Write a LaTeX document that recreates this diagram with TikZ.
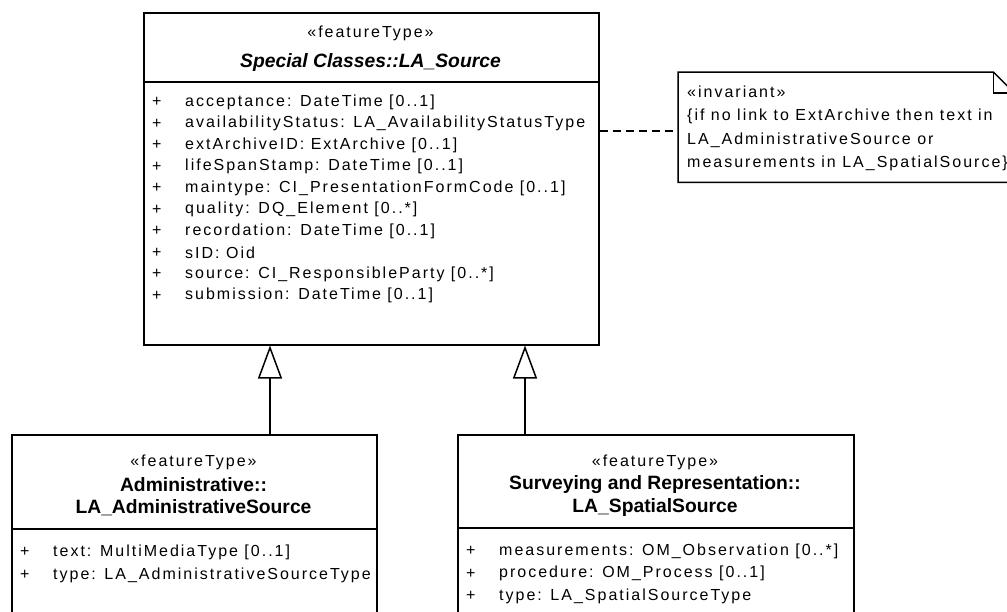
\documentclass[tikz,border=0pt]{standalone}
\usepackage{fontspec}
\setmainfont{Liberation Sans}
\newfontfamily\attrfont{Liberation Sans}[LetterSpace=12.5]
\usetikzlibrary{arrows.meta}

\tikzset{
  classbox/.style={draw, line width=1.5pt, anchor=north west, inner sep=0pt},
  stereo/.style={font=\attrfont\fontsize{16}{18}\selectfont, inner sep=0pt},
  cname/.style={font=\bfseries\fontsize{19.3}{21}\selectfont, inner sep=0pt},
  attr/.style={font=\attrfont\fontsize{16}{18}\selectfont, anchor=west, inner sep=0pt},
  gen/.style={line width=1.5pt, -{Triangle[open,width=24pt,length=33pt]}},
}

\begin{document}
\begin{tikzpicture}[x=1pt,y=-1pt]
\useasboundingbox (0,0) rectangle (1007,611);
\clip (0,0) rectangle (1007,611);
% classes
\node[classbox, minimum width=455pt, minimum height=332pt] (source) at (143,12) {};
\node[classbox, minimum width=365pt, minimum height=230pt] (admin) at (11,434) {};
\node[classbox, minimum width=396pt, minimum height=230pt] (spatial) at (457,434) {};
\draw[line width=1.5pt] (source.west |- 0,82) -- (source.east |- 0,82);
\draw[line width=1.5pt] (admin.west |- 0,529) -- (admin.east |- 0,529);
\draw[line width=1.5pt] (spatial.west |- 0,528) -- (spatial.east |- 0,528);

% LA_Source
\node[stereo] (source-st) at (370.5,33) {«featureType»};
\node[cname] (source-nm) at (370.5,63) {\itshape Special Classes::LA\_Source};
\foreach \a [count=\i from 0] in {{acceptance: DateTime [0..1]},
    {availabilityStatus: LA\_AvailabilityStatusType},
    {extArchiveID: ExtArchive [0..1]},
    {lifeSpanStamp: DateTime [0..1]},
    {maintype: CI\_PresentationFormCode [0..1]},
    {quality: DQ\_Element [0..*]},
    {recordation: DateTime [0..1]},
    {sID: Oid},
    {source: CI\_ResponsibleParty [0..*]},
    {submission: DateTime [0..1]}} {
  \node[attr] (source-p\i) at (152,102+21.5*\i) {+};
  \node[attr] (source-a\i) at (185,102+21.5*\i) {\a};
}

% LA_AdministrativeSource
\node[stereo] (admin-st) at (193.5,462) {«featureType»};
\node[cname] (admin-nm1) at (193.5,485) {Administrative::};
\node[cname] (admin-nm2) at (193.5,508) {LA\_AdministrativeSource};
\foreach \a [count=\i from 0] in {{text: MultiMediaType [0..1]},
    {type: LA\_AdministrativeSourceType}} {
  \node[attr] (admin-p\i) at (20,552+23*\i) {+};
  \node[attr] (admin-a\i) at (53,552+23*\i) {\a};
}

% LA_SpatialSource
\node[stereo] (spatial-st) at (655,462) {«featureType»};
\node[cname] (spatial-nm1) at (655,485) {Surveying and Representation::};
\node[cname] (spatial-nm2) at (655,508) {LA\_SpatialSource};
\foreach \a [count=\i from 0] in {{measurements: OM\_Observation [0..*]},
    {procedure: OM\_Process [0..1]},
    {type: LA\_SpatialSourceType}} {
  \node[attr] (spatial-p\i) at (466,551+22.5*\i) {+};
  \node[attr] (spatial-a\i) at (499,551+22.5*\i) {\a};
}

% invariant note
\node[minimum width=336pt, minimum height=110pt, anchor=north west, inner sep=0pt] (inv) at (678,72) {};
\draw[line width=1.5pt] (inv.north west) -- ([xshift=-21pt]inv.north east)
  -- ([yshift=-21pt]inv.north east) -- (inv.south east) -- (inv.south west) -- cycle;
\draw[line width=1.5pt] ([xshift=-21pt]inv.north east) -- ([xshift=-21pt,yshift=-21pt]inv.north east)
  -- ([yshift=-21pt]inv.north east);
\node[attr] (inv-1) at (687,92) {«invariant»};
\node[attr] (inv-2) at (687,116) {\{if no link to ExtArchive then text in};
\node[attr] (inv-3) at (687,140) {LA\_AdministrativeSource or};
\node[attr] (inv-4) at (687,163) {measurements in LA\_SpatialSource\}};

% connectors
\draw[line width=1.5pt, dash pattern=on 8pt off 5pt] (source.east |- 0,131) -- (inv.west |- 0,131);
\draw[gen] (admin.north -| 270,0) -- (source.south -| 270,0);
\draw[gen] (spatial.north -| 525,0) -- (source.south -| 525,0);
\end{tikzpicture}
\end{document}
